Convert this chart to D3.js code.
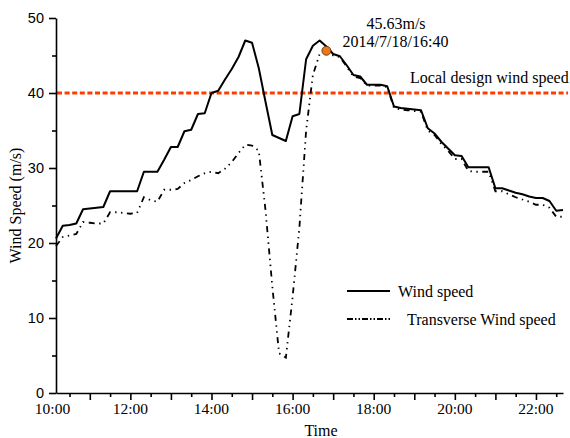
<!DOCTYPE html>
<html>
<head>
<meta charset="utf-8">
<script src="https://cdn.jsdelivr.net/npm/d3@7"></script>
<style>
  html, body { margin: 0; padding: 0; background: #fff; }
  svg { display: block; }
</style>
</head>
<body>
<svg id="chart" width="570" height="438"></svg>
<script>
// ---------------- data ----------------
const times = [
  "10:10","10:20","10:30","10:40","10:50","11:00","11:10","11:20","11:30","11:40",
  "11:50","12:00","12:10","12:20","12:30","12:40","12:50","13:00","13:10","13:20",
  "13:30","13:40","13:50","14:00","14:10","14:20","14:30","14:40","14:50","15:00",
  "15:10","15:20","15:30","15:40","15:50","16:00","16:10","16:20","16:30","16:40",
  "16:50","17:00","17:10","17:20","17:30","17:40","17:50","18:00","18:10","18:20",
  "18:30","18:40","18:50","19:00","19:10","19:20","19:30","19:40","19:50","20:00",
  "20:10","20:20","20:30","20:40","20:50","21:00","21:10","21:20","21:30","21:40",
  "21:50","22:00","22:10","22:20","22:30","22:40"
];
const windSpeed = [
  20.6, 22.3, 22.4, 22.6, 24.5, 24.6, 24.7, 24.8, 26.9, 26.9,
  26.9, 26.9, 26.9, 29.5, 29.5, 29.5, 31.1, 32.8, 32.8, 34.9,
  35.1, 37.2, 37.3, 40.0, 40.3, 41.8, 43.2, 44.8, 47.0, 46.7,
  43.3, 38.8, 34.4, 34.0, 33.6, 36.9, 37.2, 44.5, 46.3, 47.0,
  46.2, 45.2, 44.9, 43.7, 42.4, 42.2, 41.1, 41.1, 41.1, 40.9,
  38.2, 38.0, 37.9, 37.8, 37.7, 35.3, 34.6, 33.5, 32.6, 31.7,
  31.6, 30.1, 30.1, 30.1, 30.1, 27.3, 27.3, 27.0, 26.7, 26.5,
  26.2, 26.0, 26.0, 25.6, 24.3, 24.4
];
const transverseSpeed = [
  19.6, 20.8, 21.0, 21.2, 22.8, 22.7, 22.6, 22.6, 24.1, 24.1,
  24.0, 23.9, 24.0, 26.1, 25.7, 25.5, 27.1, 27.1, 27.2, 28.0,
  28.4, 28.9, 29.3, 29.5, 29.3, 29.9, 30.8, 32.0, 33.1, 33.0,
  32.3, 24.3, 14.2, 5.3, 4.7, 12.8, 22.0, 35.0, 42.4, 45.2,
  45.6, 45.0, 44.8, 43.5, 42.2, 42.0, 41.0, 41.0, 41.0, 40.8,
  38.0, 37.8, 37.7, 37.6, 37.5, 35.0, 34.4, 33.2, 32.3, 31.2,
  31.2, 29.6, 29.5, 29.5, 29.5, 26.9, 26.9, 26.5, 26.1, 25.8,
  25.5, 25.1, 25.1, 24.7, 23.5, 23.5
];
const designSpeed = 40;
const peakPoint = { time: "16:50", value: 45.63 };
const peakLabel = ["45.63m/s", "2014/7/18/16:40"];
const xDomain = ["10:10", "22:40"];
const xMajorTicks = ["11:00","12:00","13:00","14:00","15:00","16:00","17:00","18:00","19:00","20:00","21:00","22:00"];
const xMinorTicks = ["10:30","11:30","12:30","13:30","14:30","15:30","16:30","17:30","18:30","19:30","20:30","21:30","22:30"];
const xLabels = ["10:00","12:00","14:00","16:00","18:00","20:00","22:00"];
const yMajorTicks = [0, 10, 20, 30, 40, 50];
const yMinorTicks = [5, 15, 25, 35, 45];
const seriesNames = ["Wind speed", "Transverse Wind speed"];

// ---------------- helpers ----------------
const toMin = s => { const [h, m] = s.split(":").map(Number); return h * 60 + m; };

const svg = d3.select("#chart");
const serif = "'Liberation Serif', 'Times New Roman', serif";
const sans = "'Liberation Sans', Arial, sans-serif";

const x = d3.scaleLinear().domain(xDomain.map(toMin)).range([56, 563]);
const y = d3.scaleLinear().domain([0, 50]).range([393, 18]);

// ---------------- design wind speed line ----------------
svg.append("line")
  .attr("x1", x.range()[0] + 1).attr("x2", x.range()[1] + 5)
  .attr("y1", y(designSpeed)).attr("y2", y(designSpeed))
  .attr("stroke", "#ff3c00").attr("stroke-width", 3)
  .attr("stroke-dasharray", "5,2.6");

svg.append("text")
  .attr("x", 410).attr("y", 83)
  .attr("font-family", serif).attr("font-size", 16)
  .text("Local design wind speed");

// ---------------- series ----------------
const line = d3.line()
  .x((d, i) => x(toMin(times[i])))
  .y(d => y(d));

svg.append("path")
  .datum(transverseSpeed)
  .attr("d", line)
  .attr("fill", "none").attr("stroke", "#000").attr("stroke-width", 1.8)
  .attr("stroke-dasharray", "6,4.5,1.4,4.5,1.4,4.5");

svg.append("path")
  .datum(windSpeed)
  .attr("d", line)
  .attr("fill", "none").attr("stroke", "#000").attr("stroke-width", 2)
  .attr("stroke-linejoin", "round");

// peak marker
svg.append("circle")
  .attr("cx", x(toMin(peakPoint.time))).attr("cy", y(peakPoint.value))
  .attr("r", 4.5)
  .attr("fill", "#e8781e").attr("stroke", "#5a2a00").attr("stroke-width", 0.8);

svg.append("text")
  .attr("x", 396).attr("y", 29).attr("text-anchor", "middle")
  .attr("font-family", serif).attr("font-size", 16)
  .text(peakLabel[0]);
svg.append("text")
  .attr("x", 395.5).attr("y", 47).attr("text-anchor", "middle")
  .attr("font-family", serif).attr("font-size", 16)
  .text(peakLabel[1]);

// ---------------- axes ----------------
const axisW = 1.6;
const yAxis = svg.append("g").attr("transform", `translate(${x.range()[0]},0)`)
  .call(d3.axisLeft(y).tickValues(yMajorTicks).tickSize(7).tickSizeOuter(0).tickPadding(5));
yAxis.selectAll("text").attr("font-family", sans).attr("font-size", 14.5).attr("fill", "#000");
const yMinor = svg.append("g").attr("transform", `translate(${x.range()[0]},0)`)
  .call(d3.axisLeft(y).tickValues(yMinorTicks).tickSize(4).tickFormat(""));
yMinor.select(".domain").remove();

const xAxis = svg.append("g").attr("transform", `translate(0,${y.range()[0]})`)
  .call(d3.axisBottom(x).tickValues(xMajorTicks.map(toMin)).tickSize(7).tickSizeOuter(0).tickFormat(""));
const xMinor = svg.append("g").attr("transform", `translate(0,${y.range()[0]})`)
  .call(d3.axisBottom(x).tickValues(xMinorTicks.map(toMin)).tickSize(4).tickFormat(""));
xMinor.select(".domain").remove();

svg.selectAll(".domain, .tick line").attr("stroke", "#000").attr("stroke-width", axisW);

svg.append("g").selectAll("text").data(xLabels).join("text")
  .attr("x", d => Math.max(x(toMin(d)), 52.5))
  .attr("y", 414)
  .attr("text-anchor", "middle")
  .attr("font-family", serif).attr("font-size", 15.5)
  .text(d => d);

svg.append("text")
  .attr("x", 321).attr("y", 436).attr("text-anchor", "middle")
  .attr("font-family", serif).attr("font-size", 16)
  .text("Time");
svg.append("text")
  .attr("transform", `translate(21,${(y.range()[0] + y.range()[1]) / 2}) rotate(-90)`)
  .attr("text-anchor", "middle")
  .attr("font-family", serif).attr("font-size", 16)
  .text("Wind Speed (m/s)");

// ---------------- legend ----------------
const legend = svg.append("g");
const legendRows = [
  { name: seriesNames[0], dash: null, ly: 291, tx: 398 },
  { name: seriesNames[1], dash: "6,2,1.5,2,1.5,2", ly: 319, tx: 407 }
];
legendRows.forEach(r => {
  legend.append("line")
    .attr("x1", 347).attr("x2", 390).attr("y1", r.ly).attr("y2", r.ly)
    .attr("stroke", "#000").attr("stroke-width", 2)
    .attr("stroke-dasharray", r.dash);
  legend.append("text")
    .attr("x", r.tx).attr("y", r.ly + 6)
    .attr("font-family", serif).attr("font-size", 16)
    .text(r.name);
});
</script>
</body>
</html>
